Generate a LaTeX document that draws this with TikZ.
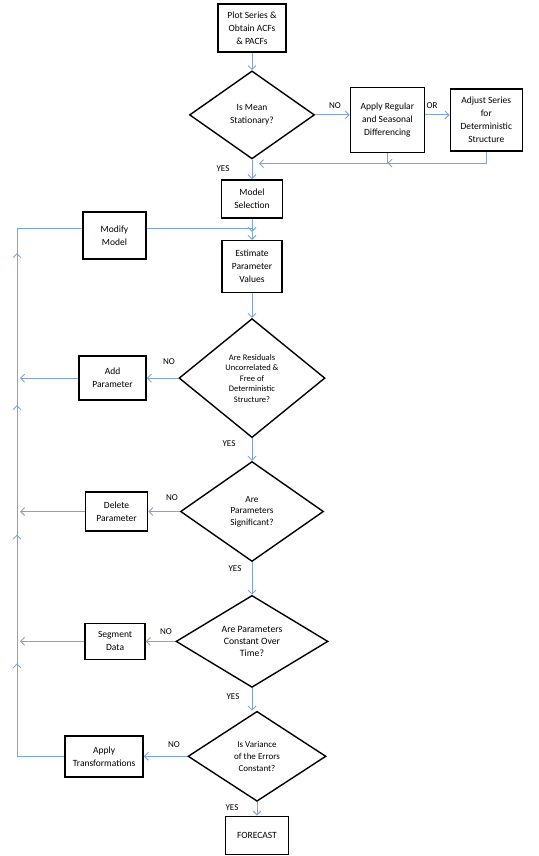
\documentclass[tikz,border=0pt]{standalone}
\usepackage{fontspec}
\setmainfont{Carlito}
\usetikzlibrary{shapes.geometric, arrows.meta, positioning, calc}

\definecolor{flowblue}{RGB}{125,165,220}

\begin{document}
\begin{tikzpicture}[
    x=1pt, y=1pt,
    box/.style={rectangle, draw=black, line width=1.4pt, fill=white, align=center,
                inner sep=1pt, font=\fontsize{9.5}{13}\selectfont},
    decision/.style={diamond, draw=black, line width=1.4pt, fill=white, align=center,
                     inner sep=0pt, font=\fontsize{9.5}{12.5}\selectfont},
    flow/.style={-{Straight Barb[length=4pt, width=8pt]}, draw=flowblue, line width=0.9pt},
    link/.style={draw=flowblue, line width=0.9pt},
    tag/.style={font=\fontsize{9}{10}\selectfont, inner sep=0pt}
]
\useasboundingbox (0,0) rectangle (538,-856);

% main column
\node[box, minimum width=68pt, minimum height=48pt] (plot) at (252,-28) {Plot Series \&\\Obtain ACFs\\\& PACFs};
\node[decision, minimum width=125pt, minimum height=88pt, below=17.5pt of plot] (mean) {Is Mean\\Stationary?};
\node[box, minimum width=74pt, minimum height=65pt, right=34.5pt of mean, yshift=-5pt] (differ) {Apply Regular\\and Seasonal\\Differencing};
\node[box, minimum width=72pt, minimum height=62pt, right=24.5pt of differ] (adjust) {Adjust Series\\for\\Deterministic\\Structure};
\node[box, minimum width=61pt, minimum height=38pt, below=19.5pt of mean] (select) {Model\\Selection};
\node[box, minimum width=60pt, minimum height=52pt, below=21.5pt of select] (estimate) {Estimate\\Parameter\\Values};
\node[decision, minimum width=146pt, minimum height=119pt, below=24.5pt of estimate,
      font=\fontsize{8.5}{10.5}\selectfont] (resid) {Are Residuals\\Uncorrelated \&\\Free of\\Deterministic\\Structure?};
\node[decision, minimum width=143pt, minimum height=100pt, below=22.5pt of resid,
      font=\fontsize{9.3}{11.5}\selectfont] (signif) {Are\\Parameters\\Significant?};
\node[decision, minimum width=152pt, minimum height=92pt, below=32.5pt of signif,
      font=\fontsize{9.7}{11.7}\selectfont] (const) {Are Parameters\\Constant Over\\Time?};
\node[decision, minimum width=138pt, minimum height=90pt, below=22.5pt of const, xshift=5pt,
      font=\fontsize{9}{12}\selectfont] (var) {Is Variance\\of the Errors\\Constant?};
\node[box, minimum width=63pt, minimum height=38pt, below=13.5pt of var] (forecast) {FORECAST};

% side boxes
\node[box, minimum width=63pt, minimum height=47pt] (modify) at (114.5,-235.5) {Modify\\Model};
\node[box, minimum width=67pt, minimum height=44pt, left=31.5pt of resid] (addpar) {Add\\Parameter};
\node[box, minimum width=62pt, minimum height=39pt, left=31.5pt of signif] (delpar) {Delete\\Parameter};
\node[box, minimum width=60pt, minimum height=36pt, left=29.5pt of const] (segment) {Segment\\Data};
\node[box, minimum width=78pt, minimum height=41pt, left=43.5pt of var] (transf) {Apply\\Transformations};

\coordinate (railtop) at (17,-228);
\coordinate (rejoin) at ($(mean.south)+(7pt,-4pt)$);

% labels
\node[tag] (no1) at (335,-106) {NO};
\node[tag] (or1) at (432,-106) {OR};
\node[tag] (yes1) at (223,-169) {YES};
\node[tag] (no2) at (169,-362) {NO};
\node[tag] (yes2) at (229,-444) {YES};
\node[tag] (no3) at (172,-498) {NO};
\node[tag] (yes3) at (235,-569) {YES};
\node[tag] (no4) at (166,-632) {NO};
\node[tag] (yes4) at (233,-697) {YES};
\node[tag] (no5) at (174,-745) {NO};
\node[tag] (yes5) at (232,-808) {YES};

% connectors
\draw[flow] (plot) -- (mean);
\draw[flow] (mean.east) -- (mean.east -| differ.west);
\draw[flow] (differ.east |- mean.east) -- (adjust.west |- mean.east);
\draw[flow] (adjust.south) |- ([yshift=-10pt]differ.south);
\draw[flow] (differ.south) |- (rejoin);
\draw[flow] (mean) -- (select);
\draw[flow] (select) -- (estimate);
\draw[flow] (estimate) -- (resid);
\draw[flow] (resid) -- (signif);
\draw[flow] (signif) -- (const);
\draw[flow] (const.south) -- (const.south |- var.north);
\draw[flow] (var) -- (forecast);

\draw[flow] (resid) -- (addpar);
\draw[flow] (signif) -- (delpar);
\draw[flow] (const) -- (segment);
\draw[flow] (var.west) -- (var.west -| transf.east);

% feedback rail
\draw[link] (transf.west) -- (transf.west -| railtop) -- (railtop) -- (modify.west |- railtop);
\draw[flow] (modify.east |- railtop) -| ([yshift=-4pt]railtop -| select.south);
\foreach \side in {addpar, delpar, segment}
    \draw[flow] (\side.west) -- ([xshift=3pt]\side.west -| railtop);
\draw[flow] (transf.west -| railtop) -- ([yshift=-22pt]segment.west -| railtop);
\draw[flow] (segment.west -| railtop) -- ([yshift=-23pt]delpar.west -| railtop);
\draw[flow] (delpar.west -| railtop) -- ([yshift=-27pt]addpar.west -| railtop);
\draw[flow] (addpar.west -| railtop) -- ([yshift=-25pt]railtop);

\end{tikzpicture}
\end{document}
